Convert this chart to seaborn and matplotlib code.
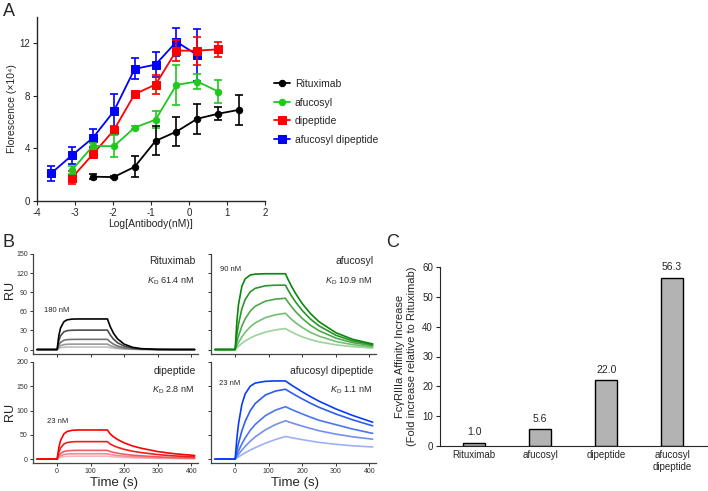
import numpy as np
import pandas as pd
import matplotlib
matplotlib.use('Agg')
import matplotlib.pyplot as plt
import seaborn as sns

# === Panel A: cell binding titration (mean +/- error, x10^4) ===
log_conc = [-3.63, -3.08, -2.53, -1.98, -1.43, -0.88, -0.33, 0.22, 0.77, 1.32]
ritux_y = [1.85, 1.82, 2.6, 4.57, 5.28, 6.26, 6.64, 6.94]
ritux_err = [0.2, 0.05, 0.8, 1.1, 1.1, 1.13, 0.5, 1.14]
afuc_y = [2.35, 4.19, 4.17, 5.58, 6.19, 8.84, 9.09, 8.33]
afuc_err = [0.3, 0.2, 0.83, 0.1, 0.66, 1.53, 0.55, 0.9]
dipep_y = [1.77, 3.56, 5.38, 8.13, 8.86, 11.44, 11.44, 11.54]
dipep_err = [0.5, 0.3, 0.3, 0.25, 0.7, 0.8, 1.06, 0.55]
afdip_y = [2.1, 3.48, 4.8, 6.82, 10.05, 10.38, 12.12, 11.1]
afdip_err = [0.6, 0.63, 0.7, 1.33, 0.8, 0.92, 1.05, 1.96]

# === Panel B: SPR sensorgrams (RU read at these times) ===
spr_time = [-60, 0, 5, 10, 20, 30, 45, 60, 90, 120, 150, 158, 168, 180, 200, 225, 250, 300, 350, 410]
ritux_spr = [
    [0, 0, 21.6, 33.6, 43.7, 46.7, 47.8, 48, 48, 48, 48, 36.3, 25.6, 16.8, 8.4, 3.5, 1.4, 0.2, 0, 0],
    [0, 0, 13.7, 21.3, 27.8, 29.7, 30.3, 30.5, 30.5, 30.5, 30.5, 23.1, 16.3, 10.7, 5.3, 2.2, 0.9, 0.1, 0, 0],
    [0, 0, 7.2, 11.2, 14.6, 15.6, 15.9, 16, 16, 16, 16, 12.1, 8.5, 5.6, 2.8, 1.2, 0.5, 0.1, 0, 0],
    [0, 0, 3.8, 6.0, 7.7, 8.3, 8.5, 8.5, 8.5, 8.5, 8.5, 6.4, 4.5, 3.0, 1.5, 0.6, 0.3, 0, 0, 0],
    [0, 0, 1.8, 2.8, 3.6, 3.9, 4, 4, 4, 4, 4, 3.0, 2.1, 1.4, 0.7, 0.3, 0.1, 0, 0, 0],
]
afuc_spr = [
    [0, 0, 43, 70.6, 99.4, 111, 117, 118.4, 119, 119, 119, 109.8, 99.4, 88.2, 72.2, 56.2, 43.8, 26.5, 16.1, 8.8],
    [0, 0, 22.4, 39.8, 64, 78.6, 90.6, 96.1, 100.1, 101, 101, 93.2, 84.3, 74.8, 61.3, 47.7, 37.2, 22.5, 13.6, 7.5],
    [0, 0, 11.3, 21.1, 36.7, 48.3, 60.3, 68, 75.9, 79.2, 80.5, 74.3, 67.2, 59.7, 48.9, 38, 29.6, 18, 10.9, 6],
    [0, 0, 5.7, 10.9, 19.8, 27.1, 35.6, 41.9, 50.1, 54.5, 57, 52.6, 47.6, 42.2, 34.6, 26.9, 21, 12.7, 7.7, 4.2],
    [0, 0, 2.7, 5.1, 9.6, 13.4, 18.1, 21.9, 27.3, 30.8, 33, 30.5, 27.6, 24.5, 20, 15.6, 12.1, 7.4, 4.5, 2.4],
]
dipep_spr = [
    [0, 0, 23.6, 37.9, 51.9, 57, 59.4, 60, 60, 60, 60, 52, 46, 40.5, 33.5, 27, 22.5, 15.5, 11, 7.5],
    [0, 0, 14.2, 22.8, 31.1, 34.2, 35.6, 36, 36, 36, 36, 31.2, 27.6, 24.3, 20.1, 16.2, 13.5, 9.3, 6.6, 4.5],
    [0, 0, 7.1, 11.4, 15.6, 17.1, 17.8, 18, 18, 18, 18, 15.6, 13.8, 12.2, 10, 8.1, 6.8, 4.7, 3.3, 2.3],
    [0, 0, 4.3, 6.9, 9.5, 10.5, 10.9, 11, 11, 11, 11, 9.5, 8.4, 7.4, 6.1, 5.0, 4.1, 2.8, 2.0, 1.4],
    [0, 0, 2.4, 3.8, 5.2, 5.7, 5.9, 6, 6, 6, 6, 5.2, 4.6, 4.1, 3.4, 2.7, 2.3, 1.6, 1.1, 0.8],
]
afdip_spr = [
    [0, 0, 41.7, 72.6, 112.5, 134.4, 150.2, 156.7, 160.2, 161, 161, 157.1, 152.5, 147.2, 138.6, 128.6, 119.3, 103.5, 90, 76],
    [0, 0, 17.4, 32.6, 58, 77.9, 99.6, 114.6, 132, 140.1, 144, 140.5, 136.4, 131.6, 124, 115, 106.7, 93, 81, 68.5],
    [0, 0, 8.7, 16.8, 31.3, 43.7, 59.3, 71.6, 89.4, 100.8, 108, 105.4, 102.3, 98.7, 93, 86.3, 80, 71, 62, 53],
    [0, 0, 5, 9.7, 18.4, 26.3, 36.8, 45.9, 60.3, 71.1, 79, 77.1, 74.8, 72.2, 68, 63.1, 58.5, 51.5, 46, 41],
    [0, 0, 2.4, 4.6, 8.9, 13, 18.6, 23.7, 32.8, 40.3, 46.6, 45.5, 44.1, 42.6, 40.1, 37.2, 34.5, 30.5, 27.5, 25],
]

# === Panel C: affinity fold increase ===
bar_labels = ['Rituximab', 'afucosyl', 'dipeptide', 'afucosyl\ndipeptide']
fold_increase = [1.0, 5.6, 22.0, 56.3]

# === Style ===
sns.set_style('ticks')
plt.rcParams['font.family'] = ['Liberation Sans', 'DejaVu Sans']
plt.rcParams['axes.unicode_minus'] = False
plt.rcParams['mathtext.fontset'] = 'custom'
plt.rcParams['mathtext.rm'] = 'Liberation Sans'
plt.rcParams['mathtext.it'] = 'Liberation Sans:italic'

W, H = 708, 491
fig = plt.figure(figsize=(W / 100, H / 100), dpi=100)


def px_axes(left, top, right, bottom):
    return fig.add_axes([left / W, 1 - bottom / H, (right - left) / W, (bottom - top) / H])


# ---------------- Panel A ----------------
axA = px_axes(37, 17, 265, 201)
series_a = [
    ('afucosyl dipeptide', log_conc[0:8], afdip_y, afdip_err, '#0000ff', 's', 5.2),
    ('dipeptide', log_conc[1:9], dipep_y, dipep_err, '#ff0000', 's', 5.2),
    ('afucosyl', log_conc[1:9], afuc_y, afuc_err, '#1fc81f', 'o', 4.6),
    ('Rituximab', log_conc[2:10], ritux_y, ritux_err, '#000000', 'o', 4.6),
]
for name, xs, ys, es, col, mk, ms in series_a:
    sns.lineplot(x=xs, y=ys, ax=axA, color=col, marker=mk, markersize=ms,
                 markeredgecolor=col, linewidth=1.3, label=name)
    axA.errorbar(xs, ys, yerr=es, fmt='none', ecolor=col, elinewidth=1.2,
                 capsize=3, capthick=1.2)
axA.set_xlim(-4, 2)
axA.set_ylim(0, 14)
axA.set_xticks([-4, -3, -2, -1, 0, 1, 2])
axA.set_yticks([0, 4, 8, 12])
axA.tick_params(labelsize=7, length=3, width=0.8, pad=2)
axA.set_xlabel('Log[Antibody(nM)]', fontsize=7.5, labelpad=1)
axA.set_ylabel('Florescence (×10⁴)', fontsize=7.5, labelpad=2)
for s in ['left', 'bottom']:
    axA.spines[s].set_linewidth(1.0)
sns.despine(ax=axA)
handles, labels = axA.get_legend_handles_labels()
order = [labels.index(n) for n in ['Rituximab', 'afucosyl', 'dipeptide', 'afucosyl dipeptide']]
axA.legend([handles[i] for i in order], [labels[i] for i in order],
           loc='upper left', bbox_to_anchor=(274 / W, 1 - 79 / H),
           bbox_transform=fig.transFigure, frameon=False, fontsize=7.5,
           handlelength=1.5, handletextpad=0.5, labelspacing=0.82,
           borderaxespad=0, borderpad=0)

fig.text(3 / W, 1 - 3 / H, 'A', fontsize=13, va='top', ha='left')

# ---------------- Panel B ----------------
spr_sets = [
    ('Rituximab', r'$K_{\mathrm{D}}$ 61.4 nM', '180 nM', ritux_spr,
     ['#000000', '#4d4d4d', '#737373', '#9a9a9a', '#c0c0c0'], (33, 254, 198, 354), (-7, 150),
     [0, 30, 60, 90, 120, 150], (0, 62)),
    ('afucosyl', r'$K_{\mathrm{D}}$ 10.9 nM', '90 nM', afuc_spr,
     ['#0a870a', '#289628', '#4ca84c', '#74be74', '#9bd39b'], (211, 254, 376, 354), (-7, 150),
     [0, 30, 60, 90, 120, 150], (-13, 126)),
    ('dipeptide', r'$K_{\mathrm{D}}$ 2.8 nM', '23 nM', dipep_spr,
     ['#ff0000', '#ea2020', '#f05a66', '#f38b96', '#f7b6be'], (33, 362, 198, 463), (-8, 200),
     [0, 50, 100, 150, 200], (0, 77)),
    ('afucosyl dipeptide', r'$K_{\mathrm{D}}$ 1.1 nM', '23 nM', afdip_spr,
     ['#0a3cff', '#2d5cf2', '#4c74ec', '#7390f0', '#9cb1f5'], (211, 362, 376, 463), (-8, 200),
     [0, 50, 100, 150, 200], (-16, 155)),
]
for k, (name, kd, top_conc, curves, cols, box, ylim, yt, conc_xy) in enumerate(spr_sets):
    ax = px_axes(*box)
    rows = []
    for i, vals in enumerate(curves):
        for t, v in zip(spr_time, vals):
            rows.append({'time': t, 'RU': v, 'curve': i})
    df = pd.DataFrame(rows)
    for i in reversed(range(len(curves))):
        sub = df[df['curve'] == i]
        sns.lineplot(data=sub, x='time', y='RU', ax=ax, color=cols[i],
                     linewidth=1.2, legend=False, sort=False)
    ax.set_xlim(-72, 420)
    ax.set_ylim(*ylim)
    ax.set_yticks(yt)
    ax.set_xticks([0, 100, 200, 300, 400])
    ax.tick_params(labelsize=5, length=2.5, width=0.7, pad=1.2, colors='#333333')
    for s in ['left', 'bottom']:
        ax.spines[s].set_linewidth(0.9)
        ax.spines[s].set_color('#444444')
    sns.despine(ax=ax)
    ax.set_xlabel('')
    ax.set_ylabel('')
    if k in (1, 3):
        ax.set_yticklabels([])
    if k in (0, 1):
        ax.set_xticklabels([])
    ax.text(0.985, 0.93 if k < 2 else 0.914, name, transform=ax.transAxes,
            ha='right', va='center', fontsize=7.5)
    ax.text(0.978, 0.724 if k < 2 else 0.717, kd, transform=ax.transAxes,
            ha='right', va='center', fontsize=6.5)
    ax.text(conc_xy[0], conc_xy[1], top_conc, ha='center', va='center', fontsize=5.5)

fig.text(10 / W, 1 - 290 / H, 'RU', rotation=90, ha='center', va='center', fontsize=9)
fig.text(10 / W, 1 - 412 / H, 'RU', rotation=90, ha='center', va='center', fontsize=9)
fig.text(114 / W, 1 - 483 / H, 'Time (s)', ha='center', va='center', fontsize=9.5)
fig.text(295 / W, 1 - 483 / H, 'Time (s)', ha='center', va='center', fontsize=9.5)
fig.text(3 / W, 1 - 234 / H, 'B', fontsize=13, va='top', ha='left')

# ---------------- Panel C ----------------
axC = px_axes(440, 267, 707, 446)
sns.barplot(x=bar_labels, y=fold_increase, ax=axC, color='#b3b3b3', saturation=1,
            edgecolor='black', linewidth=1.0, width=0.33)
axC.bar_label(axC.containers[0], labels=[f'{v:.1f}' for v in fold_increase],
              padding=4, fontsize=7.5)
axC.set_xlim(-0.52, 3.53)
axC.set_ylim(0, 60)
axC.set_yticks([0, 10, 20, 30, 40, 50, 60])
axC.tick_params(axis='y', labelsize=7, length=3, width=0.8, pad=2)
axC.tick_params(axis='x', labelsize=7, length=0, pad=3)
axC.set_xlabel('')
axC.set_ylabel('FcγRIIIa Affinity Increase\n(Fold increase relative to Rituximab)',
               fontsize=8, labelpad=4, linespacing=1.15)
sns.despine(ax=axC)
fig.text(386 / W, 1 - 234 / H, 'C', fontsize=13, va='top', ha='left')

fig.savefig('out.png', dpi=100)
